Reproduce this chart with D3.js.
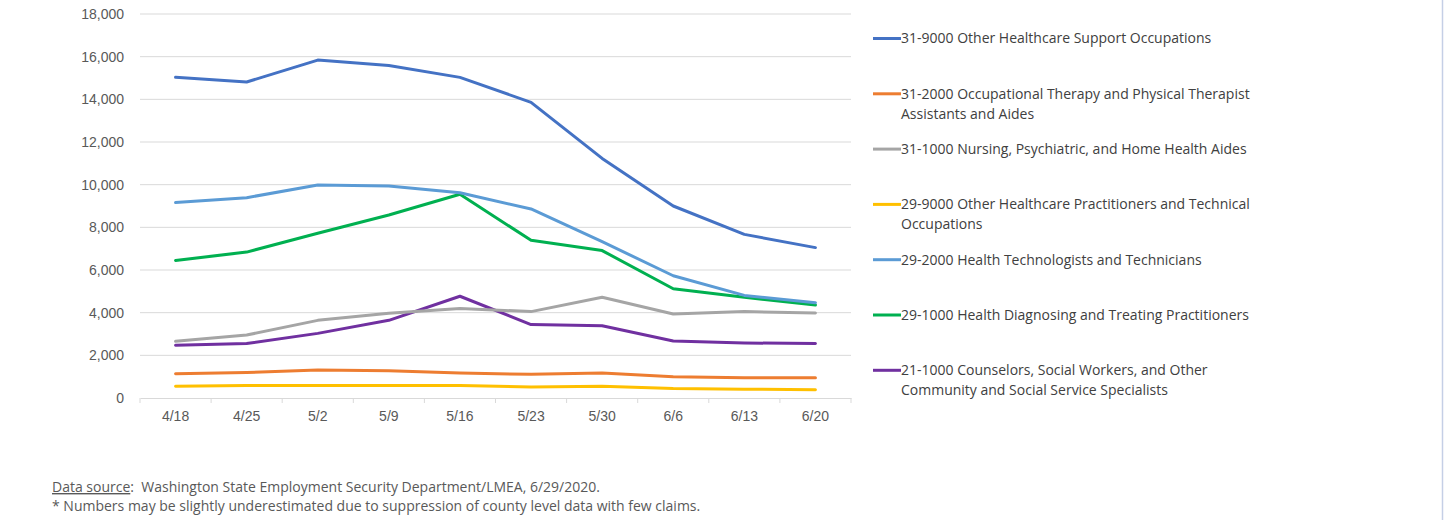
<!DOCTYPE html>
<html>
<head>
<meta charset="utf-8">
<script src="https://cdn.jsdelivr.net/npm/d3@7"></script>
<style>
  body { margin: 0; background: #fff; }
  svg { display: block; font-family: "Open Sans", sans-serif; }
</style>
</head>
<body>
<svg id="chart"></svg>
<script>
// weeks on the x axis
const weeks = ['4/18', '4/25', '5/2', '5/9', '5/16', '5/23', '5/30', '6/6', '6/13', '6/20']

// legend labels, already broken into lines as in the original
const seriesLabels = [
    ['31-9000 Other Healthcare Support Occupations'],
    ['31-2000 Occupational Therapy and Physical Therapist', 'Assistants and Aides'],
    ['31-1000 Nursing, Psychiatric, and Home Health Aides'],
    ['29-9000 Other Healthcare Practitioners and Technical', 'Occupations'],
    ['29-2000 Health Technologists and Technicians'],
    ['29-1000 Health Diagnosing and Treating Practitioners'],
    ['21-1000 Counselors, Social Workers, and Other', 'Community and Social Service Specialists']
]
const seriesColors = ['#4472C4', '#ED7D31', '#A5A5A5', '#FFC000', '#5B9BD5', '#00B050', '#7030A0']

// claims per week
const otherSupport   = [15030, 14810, 15840, 15590, 15030, 13860, 11230, 9000, 7670, 7050]
const therapyAides   = [1140, 1190, 1310, 1280, 1170, 1110, 1170, 1000, 950, 950]
const nursingAides   = [2660, 2950, 3640, 3970, 4200, 4050, 4720, 3940, 4050, 3980]
const otherPract     = [550, 590, 590, 590, 590, 520, 550, 440, 410, 390]
const technologists  = [9160, 9390, 9980, 9940, 9620, 8860, 7330, 5730, 4810, 4470]
const diagnosing     = [6450, 6840, 7720, 8580, 9550, 7390, 6910, 5120, 4720, 4360]
const counselors     = [2470, 2550, 3030, 3640, 4770, 3440, 3390, 2670, 2580, 2550]

const allSeries = [otherSupport, therapyAides, nursingAides, otherPract, technologists, diagnosing, counselors]

const yTicks = [0, 2000, 4000, 6000, 8000, 10000, 12000, 14000, 16000, 18000]

const footLine2 = '* Numbers may be slightly underestimated due to suppression of county level data with few claims.'

let svgWidth = 1452
let svgHeight = 520

let svg = d3.select('#chart')
    .attr('width', svgWidth)
    .attr('height', svgHeight)

let plotLeft = 140, plotRight = 851, plotTop = 14, plotBottom = 398

let x = d3.scaleBand()
    .domain(weeks)
    .range([plotLeft, plotRight])

let y = d3.scaleLinear()
    .domain([0, 18000])
    .range([plotBottom, plotTop])

// gridlines
svg.append('g')
    .selectAll('line')
    .data(yTicks.filter(d => d > 0))
    .enter()
    .append('line')
    .attr('x1', plotLeft)
    .attr('x2', plotRight)
    .attr('y1', d => y(d))
    .attr('y2', d => y(d))
    .attr('stroke', '#d9d9d9')
    .attr('stroke-width', 1)

// y axis labels
let yAxis = svg.append('g')
    .attr('transform', 'translate(' + plotLeft + ',0)')
    .call(d3.axisLeft(y).tickValues(yTicks).tickSize(0).tickPadding(16).tickFormat(d3.format(',')))
yAxis.select('.domain').remove()
yAxis.selectAll('text')
    .attr('fill', '#595959')
    .style('font-size', '14px')

// x axis with tick marks between the categories
let xAxis = svg.append('g')
    .attr('transform', 'translate(0,' + plotBottom + ')')
    .call(d3.axisBottom(x).tickSize(0).tickPadding(13))
xAxis.select('.domain').attr('stroke', '#d9d9d9')
xAxis.selectAll('text')
    .attr('fill', '#595959')
    .style('font-size', '14px')

let bounds = weeks.map(d => x(d)).concat([plotRight])
xAxis.selectAll('.sep')
    .data(bounds)
    .enter()
    .append('line')
    .attr('class', 'sep')
    .attr('x1', d => d)
    .attr('x2', d => d)
    .attr('y1', 0)
    .attr('y2', 5)
    .attr('stroke', '#d9d9d9')

let line = d3.line()
    .x((d, i) => x(weeks[i]) + x.bandwidth() / 2)
    .y(d => y(d))

// draw back to front so the first series sits on top like the original
svg.append('g')
    .selectAll('path')
    .data(allSeries.map((s, i) => ({ values: s, color: seriesColors[i] })).reverse())
    .enter()
    .append('path')
    .attr('d', d => line(d.values))
    .attr('fill', 'none')
    .attr('stroke', d => d.color)
    .attr('stroke-width', 3)
    .attr('stroke-linejoin', 'round')
    .attr('stroke-linecap', 'round')

// legend
let legend = svg.append('g')
    .selectAll('g')
    .data(seriesLabels)
    .enter()
    .append('g')
    .attr('transform', (d, i) => 'translate(873,' + (38.5 + i * 55.3) + ')')

legend.append('line')
    .attr('x1', 0)
    .attr('x2', 28)
    .attr('stroke', (d, i) => seriesColors[i])
    .attr('stroke-width', 3)

legend.append('text')
    .attr('fill', '#404040')
    .style('font-size', '14px')
    .selectAll('tspan')
    .data(d => d)
    .enter()
    .append('tspan')
    .attr('x', 28)
    .attr('y', (d, i) => i * 20)
    .attr('dy', '0.35em')
    .text(d => d)

// footer
let foot = svg.append('text')
    .attr('x', 52)
    .attr('y', 492)
    .attr('fill', '#595959')
    .style('font-size', '14px')
    .style('white-space', 'pre')
foot.append('tspan')
    .attr('text-decoration', 'underline')
    .text('Data source')
foot.append('tspan')
    .text(':  Washington State Employment Security Department/LMEA, 6/29/2020.')

svg.append('text')
    .attr('x', 52)
    .attr('y', 511)
    .attr('fill', '#595959')
    .style('font-size', '14px')
    .text(footLine2)

// thin frame edge at the right
svg.append('line')
    .attr('x1', 1442.5)
    .attr('x2', 1442.5)
    .attr('y1', 0)
    .attr('y2', svgHeight)
    .attr('stroke', '#c5cfe6')
    .attr('stroke-width', 1.5)
</script>
</body>
</html>
